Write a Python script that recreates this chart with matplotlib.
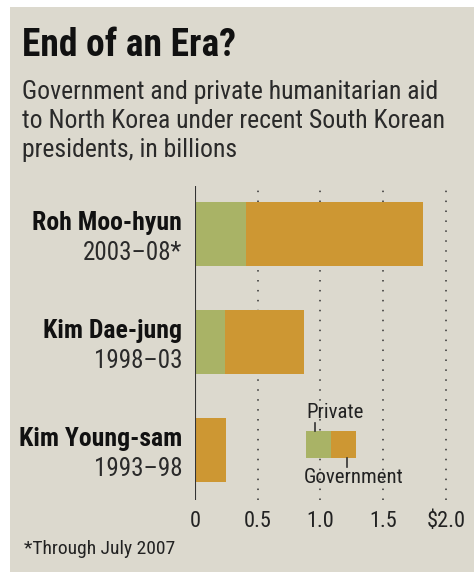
import matplotlib
matplotlib.use("Agg")
import matplotlib.pyplot as plt
from matplotlib.patches import Rectangle
import matplotlib.font_manager as fm

names = [f.name for f in fm.fontManager.ttflist]
FONT = 'Liberation Sans Narrow' if 'Liberation Sans Narrow' in names else 'Roboto Condensed' if 'Roboto Condensed' in names else 'Liberation Sans'
plt.rcParams['font.family'] = [FONT, 'DejaVu Sans']

presidents = ["Roh Moo-hyun", "Kim Dae-jung", "Kim Young-sam"]
terms = ["2003\u201308*", "1998\u201303", "1993\u201398"]
private = [0.41, 0.24, 0.0]
government = [1.41, 0.63, 0.245]
ticks = [0, 0.5, 1.0, 1.5, 2.0]
tick_labels = ["0", "0.5", "1.0", "1.5", "$2.0"]

GREEN = "#a9b366"
ORANGE = "#cd9733"
BG = "#dcd9ce"

W, H = 474, 572
fig = plt.figure(figsize=(W/100, H/100), dpi=100)
fig.patch.set_facecolor("white")
fig.patches.append(Rectangle((10/W, 0), 1 - 10/W, (H-7)/H, transform=fig.transFigure,
                             facecolor=BG, edgecolor="none", zorder=-5))

def fx(px): return px / W
def fy(py): return 1 - py / H

fig.text(fx(22), fy(46), "End of an Era?", fontsize=27, fontweight="bold", va="center", ha="left", color="#111111")
fig.text(fx(22), fy(121), "Government and private humanitarian aid\nto North Korea under recent South Korean\npresidents, in billions",
         fontsize=18.5, va="center", ha="left", color="#2a2a2a", linespacing=1.27)

ax_left, ax_right, ax_top, ax_bot = 195, 462, 186, 500
ax = fig.add_axes([fx(ax_left), fy(ax_bot), (ax_right-ax_left)/W, (ax_bot-ax_top)/H])
ax.set_facecolor("none")
px_per_unit = 125.4
ax.set_xlim(0, (ax_right-ax_left)/px_per_unit)
spacing = 108
c0 = 234
ax.set_ylim((ax_bot-c0)/spacing, (ax_top-c0)/spacing)

ypos = list(range(len(presidents)))
bh = 64/spacing
ax.barh(ypos, private, height=bh, color=GREEN, zorder=3)
ax.barh(ypos, government, left=private, height=bh, color=ORANGE, zorder=3)

for t in ticks[1:]:
    ax.axvline(t, color="#333333", linestyle=(0, (1, 5.5)), linewidth=1.1, zorder=1)
ax.axvline(0, color="#333333", linewidth=1.5, zorder=4)

for s in ax.spines.values():
    s.set_visible(False)
ax.set_xticks(ticks)
ax.set_xticklabels(tick_labels, fontsize=16, color="#222222")
ax.tick_params(axis="x", length=0, pad=8)
ax.set_yticks([])

for i, (n, t) in enumerate(zip(presidents, terms)):
    ax.annotate(n, xy=(0, i), xycoords="data", xytext=(-13, 11), textcoords="offset pixels",
                ha="right", va="center", fontsize=18.5, fontweight="bold", color="#111111")
    ax.annotate(t, xy=(0, i), xycoords="data", xytext=(-13, -19), textcoords="offset pixels",
                ha="right", va="center", fontsize=18, color="#2a2a2a")

# legend inset
ly = (444.5 - c0)/spacing
lh = 27.6/spacing
lx0 = (306-195)/px_per_unit
lw = 25/px_per_unit
ax.add_patch(Rectangle((lx0, ly - lh/2), lw, lh, facecolor=GREEN, edgecolor="none", zorder=3))
ax.add_patch(Rectangle((lx0+lw, ly - lh/2), lw, lh, facecolor=ORANGE, edgecolor="none", zorder=3))
ax.plot([lx0+lw*0.35]*2, [ly - lh/2, ly - lh/2 - 8/spacing], color="#333333", lw=1.2, zorder=4)
ax.plot([lx0+lw*1.65]*2, [ly + lh/2, ly + lh/2 + 9/spacing], color="#333333", lw=1.2, zorder=4)
ax.text(lx0, ly - lh/2 - 18/spacing, "Private", fontsize=15, ha="left", va="center", color="#222222", zorder=5)
ax.text(lx0 - 2/px_per_unit, ly + lh/2 + 19/spacing, "Government", fontsize=15, ha="left", va="center", color="#222222", zorder=5)

fig.text(fx(24), fy(549), "*Through July 2007", fontsize=14, ha="left", va="center", color="#222222")

fig.savefig("out.png", dpi=100, facecolor=fig.get_facecolor())
